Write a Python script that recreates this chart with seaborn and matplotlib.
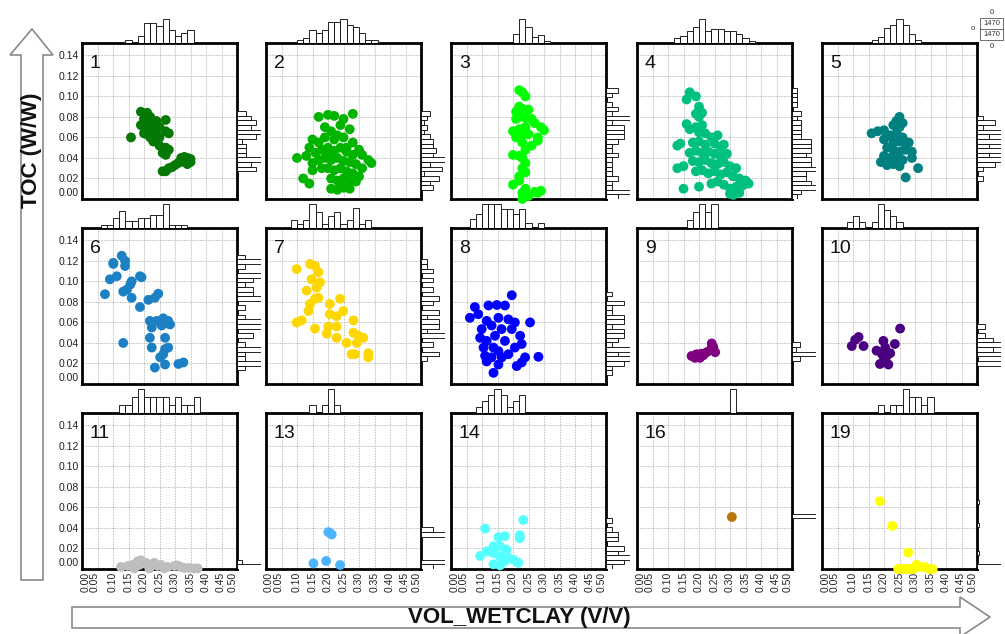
import numpy as np
import pandas as pd
import matplotlib
matplotlib.use("Agg")
import matplotlib.pyplot as plt
import seaborn as sns
from matplotlib.patches import Polygon, Rectangle
from matplotlib.transforms import ScaledTranslation

sns.set_style("white")
plt.rcParams["font.family"] = ["Liberation Sans", "DejaVu Sans"]

# ---------------- data ----------------
panel_ids = ["1", "2", "3", "4", "5", "6", "7", "8", "9", "10", "11", "13", "14", "16", "19"]
panel_colors = ["#067806", "#00B400", "#00FF00", "#00C080", "#008080",
                "#1C80C4", "#FFD700", "#0000FF", "#800080", "#4B0082",
                "#BEBEBE", "#4CB4FF", "#55FFFF", "#B8740A", "#FFFF00"]

x1 = [0.158, 0.19, 0.21, 0.20, 0.22, 0.19, 0.20, 0.21, 0.22, 0.23, 0.24, 0.27, 0.25, 0.21, 0.22, 0.23, 0.24,
      0.20, 0.23, 0.25, 0.27, 0.28, 0.25, 0.27, 0.28, 0.26, 0.27, 0.32, 0.33, 0.34, 0.35, 0.35, 0.34, 0.33,
      0.31, 0.30, 0.29, 0.28, 0.27, 0.26]
y1 = [0.060, 0.085, 0.084, 0.078, 0.080, 0.072, 0.070, 0.074, 0.068, 0.072, 0.076, 0.077, 0.070, 0.063, 0.060,
      0.065, 0.062, 0.064, 0.056, 0.060, 0.066, 0.064, 0.052, 0.050, 0.048, 0.045, 0.043, 0.040, 0.041, 0.040,
      0.039, 0.036, 0.034, 0.036, 0.035, 0.033, 0.031, 0.030, 0.027, 0.027]

x2 = [0.17, 0.20, 0.22, 0.25, 0.28, 0.24, 0.27, 0.19, 0.21, 0.10, 0.13, 0.14, 0.15, 0.17, 0.19, 0.22, 0.25,
      0.28, 0.30, 0.31, 0.16, 0.18, 0.20, 0.22, 0.24, 0.26, 0.28, 0.33, 0.34, 0.15, 0.17, 0.19, 0.21, 0.23,
      0.25, 0.27, 0.29, 0.31, 0.15, 0.18, 0.20, 0.22, 0.24, 0.26, 0.28, 0.30, 0.12, 0.14, 0.21, 0.23, 0.25,
      0.27, 0.29, 0.21, 0.23, 0.25, 0.27, 0.24, 0.26, 0.23, 0.20]
y2 = [0.080, 0.082, 0.081, 0.078, 0.083, 0.072, 0.068, 0.070, 0.066, 0.040, 0.042, 0.050, 0.058, 0.055, 0.060,
      0.058, 0.060, 0.055, 0.048, 0.043, 0.045, 0.048, 0.050, 0.047, 0.050, 0.046, 0.043, 0.038, 0.035, 0.035,
      0.038, 0.040, 0.038, 0.040, 0.037, 0.036, 0.034, 0.030, 0.028, 0.030, 0.030, 0.028, 0.030, 0.027, 0.025,
      0.022, 0.020, 0.015, 0.020, 0.018, 0.020, 0.018, 0.017, 0.010, 0.009, 0.011, 0.010, 0.014, 0.050, 0.062,
      0.043]

x3 = [0.22, 0.23, 0.24, 0.22, 0.21, 0.23, 0.25, 0.21, 0.22, 0.24, 0.26, 0.27, 0.29, 0.30, 0.20, 0.22, 0.24,
      0.23, 0.25, 0.28, 0.21, 0.23, 0.26, 0.28, 0.24, 0.20, 0.22, 0.23, 0.24, 0.23, 0.24, 0.22, 0.20, 0.22,
      0.24, 0.23, 0.25, 0.23, 0.27, 0.28, 0.29]
y3 = [0.106, 0.104, 0.100, 0.090, 0.085, 0.088, 0.087, 0.078, 0.080, 0.079, 0.078, 0.074, 0.070, 0.067, 0.066,
      0.068, 0.070, 0.062, 0.063, 0.060, 0.060, 0.055, 0.052, 0.057, 0.048, 0.043, 0.042, 0.040, 0.035, 0.030,
      0.026, 0.022, 0.014, 0.018, 0.010, 0.006, 0.003, 0.000, 0.007, 0.006, 0.008]

x4 = [0.17, 0.19, 0.16, 0.20, 0.19, 0.20, 0.21, 0.16, 0.17, 0.19, 0.21, 0.20, 0.22, 0.24, 0.26, 0.13, 0.14,
      0.18, 0.20, 0.22, 0.25, 0.27, 0.28, 0.17, 0.19, 0.21, 0.23, 0.25, 0.27, 0.29, 0.13, 0.15, 0.18, 0.20,
      0.22, 0.24, 0.26, 0.28, 0.30, 0.32, 0.19, 0.21, 0.23, 0.25, 0.27, 0.29, 0.31, 0.33, 0.35, 0.36, 0.15,
      0.20, 0.24, 0.26, 0.28, 0.30, 0.32, 0.34, 0.30, 0.31, 0.33]
y4 = [0.104, 0.100, 0.097, 0.090, 0.083, 0.080, 0.084, 0.073, 0.068, 0.070, 0.072, 0.065, 0.064, 0.060, 0.062,
      0.052, 0.054, 0.055, 0.056, 0.053, 0.054, 0.051, 0.053, 0.045, 0.047, 0.045, 0.046, 0.044, 0.042, 0.044,
      0.030, 0.032, 0.037, 0.036, 0.038, 0.035, 0.034, 0.036, 0.032, 0.030, 0.027, 0.028, 0.025, 0.027, 0.024,
      0.026, 0.022, 0.020, 0.018, 0.015, 0.010, 0.012, 0.015, 0.017, 0.014, 0.010, 0.012, 0.013, 0.005, 0.004,
      0.006]

x5 = [0.25, 0.24, 0.26, 0.23, 0.25, 0.16, 0.18, 0.20, 0.22, 0.24, 0.26, 0.20, 0.23, 0.25, 0.27, 0.28, 0.21,
      0.23, 0.25, 0.27, 0.29, 0.20, 0.22, 0.24, 0.26, 0.29, 0.19, 0.21, 0.23, 0.25, 0.31, 0.27]
y5 = [0.080, 0.076, 0.074, 0.072, 0.070, 0.064, 0.066, 0.067, 0.062, 0.064, 0.060, 0.058, 0.055, 0.056, 0.052,
      0.055, 0.050, 0.048, 0.046, 0.048, 0.046, 0.042, 0.040, 0.041, 0.038, 0.040, 0.036, 0.033, 0.034, 0.032,
      0.030, 0.021]

x6 = [0.074, 0.090, 0.101, 0.128, 0.139, 0.112, 0.160, 0.133, 0.160, 0.187, 0.192, 0.187, 0.214, 0.246, 0.235,
      0.133, 0.219, 0.241, 0.262, 0.278, 0.225, 0.257, 0.219, 0.268, 0.225, 0.268, 0.278, 0.252, 0.262, 0.268,
      0.235, 0.311, 0.327, 0.139, 0.101, 0.156, 0.145, 0.284]
y6 = [0.0875, 0.102, 0.118, 0.125, 0.115, 0.105, 0.100, 0.090, 0.084, 0.105, 0.104, 0.075, 0.082, 0.088, 0.084,
      0.040, 0.0615, 0.0615, 0.064, 0.0615, 0.055, 0.057, 0.045, 0.045, 0.0355, 0.034, 0.0355, 0.026, 0.029,
      0.019, 0.016, 0.0195, 0.021, 0.120, 0.117, 0.097, 0.092, 0.058]

x7 = [0.099, 0.142, 0.158, 0.169, 0.147, 0.174, 0.163, 0.131, 0.158, 0.169, 0.142, 0.137, 0.206, 0.239, 0.206,
      0.228, 0.249, 0.099, 0.115, 0.158, 0.201, 0.228, 0.282, 0.196, 0.228, 0.282, 0.260, 0.298, 0.314, 0.293,
      0.276, 0.287, 0.330, 0.330]
y7 = [0.112, 0.117, 0.115, 0.109, 0.102, 0.099, 0.094, 0.091, 0.083, 0.084, 0.078, 0.071, 0.078, 0.083, 0.068,
      0.066, 0.071, 0.060, 0.062, 0.054, 0.056, 0.056, 0.062, 0.049, 0.045, 0.050, 0.040, 0.047, 0.045, 0.040,
      0.029, 0.029, 0.030, 0.026]

x8 = [0.196, 0.077, 0.121, 0.148, 0.174, 0.061, 0.088, 0.115, 0.153, 0.185, 0.206, 0.255, 0.099, 0.131, 0.163,
      0.196, 0.094, 0.115, 0.142, 0.174, 0.223, 0.228, 0.206, 0.137, 0.153, 0.110, 0.131, 0.185, 0.239, 0.282,
      0.115, 0.153, 0.212, 0.228, 0.137, 0.164, 0.105]
y8 = [0.0865, 0.075, 0.0765, 0.077, 0.0765, 0.0645, 0.068, 0.0615, 0.0645, 0.063, 0.060, 0.060, 0.0535, 0.057,
      0.0535, 0.0535, 0.045, 0.042, 0.047, 0.042, 0.047, 0.039, 0.0355, 0.0355, 0.032, 0.0275, 0.026, 0.029,
      0.026, 0.0265, 0.022, 0.019, 0.0175, 0.021, 0.0109, 0.026, 0.0355]

x9 = [0.176, 0.192, 0.208, 0.225, 0.241, 0.246, 0.252, 0.187, 0.203, 0.214, 0.239]
y9 = [0.0273, 0.029, 0.0295, 0.031, 0.0395, 0.036, 0.031, 0.0255, 0.0255, 0.028, 0.034]

x10 = [0.096, 0.118, 0.107, 0.134, 0.176, 0.198, 0.204, 0.194, 0.209, 0.220, 0.198, 0.214, 0.187, 0.235, 0.252]
y10 = [0.037, 0.0458, 0.043, 0.037, 0.0325, 0.042, 0.0355, 0.029, 0.0273, 0.030, 0.0221, 0.019, 0.0195, 0.039,
       0.054]

x11 = [0.126, 0.148, 0.180, 0.190, 0.206, 0.228, 0.233, 0.255, 0.276, 0.298, 0.308, 0.330, 0.362, 0.373, 0.169,
       0.217, 0.266, 0.164, 0.185, 0.244, 0.319, 0.346]
y11 = [0.002, 0.003, 0.0075, 0.0085, 0.006, 0.004, 0.006, 0.004, 0.002, 0.003, 0.0035, 0.001, 0.0006, 0.0006,
       0.0006, 0.0006, 0.0006, 0.004, 0.004, 0.003, 0.002, 0.001]

x13 = [0.201, 0.212, 0.206, 0.153, 0.194, 0.239]
y13 = [0.036, 0.0337, 0.035, 0.0055, 0.0078, 0.0039]

x14 = [0.110, 0.233, 0.222, 0.222, 0.153, 0.174, 0.137, 0.158, 0.179, 0.094, 0.115, 0.137, 0.158, 0.185, 0.201,
       0.217, 0.137, 0.158, 0.174]
y14 = [0.0393, 0.0478, 0.0329, 0.030, 0.031, 0.032, 0.0221, 0.0221, 0.0188, 0.0127, 0.0172, 0.0156, 0.0124,
       0.0107, 0.0091, 0.006, 0.0046, 0.0036, 0.0078]

x16 = [0.306]
y16 = [0.0507]

x19 = [0.187, 0.227, 0.278, 0.246, 0.262, 0.283, 0.305, 0.315, 0.331, 0.347, 0.357, 0.294, 0.272]
y19 = [0.066, 0.042, 0.016, 0.000, 0.000, 0.000, 0.004, 0.002, 0.002, 0.000, 0.000, 0.000, 0.000]

panel_x = [x1, x2, x3, x4, x5, x6, x7, x8, x9, x10, x11, x13, x14, x16, x19]
panel_y = [y1, y2, y3, y4, y5, y6, y7, y8, y9, y10, y11, y13, y14, y16, y19]

x_ticks = [0.00, 0.05, 0.10, 0.15, 0.20, 0.25, 0.30, 0.35, 0.40, 0.45, 0.50]
y_ticks = [0.00, 0.02, 0.04, 0.06, 0.08, 0.10, 0.12, 0.14]
x_title = "VOL_WETCLAY (V/V)"
y_title = "TOC (W/W)"

# ---------------- layout ----------------
W, H = 1005, 634
fig = plt.figure(figsize=(W / 100, H / 100), dpi=100)
fig.patch.set_facecolor("white")


def rect(left, top, w, h):
    return [left / W, 1 - (top + h) / H, w / W, h / H]


def fx(px):
    return px / W


def fy(py):
    return 1 - py / H


col_left = [82, 266, 451, 637, 822]
row_top = [43, 228, 413]
PW, PH = 155, 156
MARG = 24
XLIM = (0, 0.5)
YLIM = (0, 0.152)
xbins = np.arange(0, 0.52, 0.02)
ybins = np.arange(0, 0.156, 0.0045)

for i, pid in enumerate(panel_ids):
    r, c = divmod(i, 5)
    df = pd.DataFrame({"x": panel_x[i], "y": panel_y[i]})
    ax = fig.add_axes(rect(col_left[c], row_top[r], PW, PH))
    sns.scatterplot(data=df, x="x", y="y", color=panel_colors[i], s=50, linewidth=0,
                    edgecolor="none", ax=ax, clip_on=False, zorder=5, legend=False)
    ax.set_xlim(*XLIM)
    ax.set_ylim(*YLIM)
    ax.set_xticks(x_ticks)
    ax.set_yticks(y_ticks)
    ax.grid(True, color="#bdbdbd", linestyle=(0, (2, 1.2)), linewidth=0.6)
    ax.set_axisbelow(True)
    for s in ax.spines.values():
        s.set_linewidth(2.0)
        s.set_color("black")
        s.set_zorder(4)
    ax.tick_params(length=0, pad=2, labelsize=7.5, colors="#222222")
    ax.set_xlabel("")
    ax.set_ylabel("")
    if c == 0:
        ax.set_yticklabels([f"{v:.2f}" for v in y_ticks])
        lab0 = ax.get_yticklabels()[0]
        lab0.set_transform(lab0.get_transform() + ScaledTranslation(0, 5 / 72, fig.dpi_scale_trans))
    else:
        ax.set_yticklabels([])
    if r == 2:
        ax.set_xticklabels([f"{v:.2f}" for v in x_ticks], rotation=90)
        shifts = {0: 3, 1: -3, 9: -1, 10: -4}
        labs = ax.get_xticklabels()
        for k, dx in shifts.items():
            labs[k].set_transform(labs[k].get_transform() + ScaledTranslation(dx / 72 * 0.75, 0, fig.dpi_scale_trans))
    else:
        ax.set_xticklabels([])
    ax.text(0.05, 0.87, pid, transform=ax.transAxes, fontsize=14, va="center", ha="left",
            color="#111111", zorder=6)

    # top marginal histogram
    tax = fig.add_axes(rect(col_left[c], row_top[r] - MARG, PW, MARG))
    sns.histplot(x=panel_x[i], bins=xbins, ax=tax, color="white", edgecolor="black",
                 linewidth=0.6, alpha=1)
    tax.set_xlim(*XLIM)
    tmax = max(p.get_height() for p in tax.patches)
    tax.set_ylim(0, tmax * 1.02)
    tax.axis("off")

    # right marginal histogram
    rax = fig.add_axes(rect(col_left[c] + PW, row_top[r], MARG, PH))
    sns.histplot(y=panel_y[i], bins=ybins, ax=rax, color="white", edgecolor="black",
                 linewidth=0.6, alpha=1)
    rax.set_ylim(*YLIM)
    rmax = max(p.get_width() for p in rax.patches)
    rax.set_xlim(0, rmax * 1.02)
    rax.axis("off")

# ---------------- axis arrows ----------------
arrow_v = [(32, 29), (53, 55), (43, 55), (43, 580), (21, 580), (21, 55), (10, 55)]
fig.patches.append(Polygon([(fx(a), fy(b)) for a, b in arrow_v], closed=True, transform=fig.transFigure,
                           facecolor="white", edgecolor="#8a8a8a", linewidth=1.2))
arrow_h = [(72, 607), (960, 607), (960, 597), (990, 617), (960, 637), (960, 628), (72, 628)]
fig.patches.append(Polygon([(fx(a), fy(b)) for a, b in arrow_h], closed=True, transform=fig.transFigure,
                           facecolor="white", edgecolor="#8a8a8a", linewidth=1.2))
fig.text(fx(32), fy(150), y_title, rotation=90, ha="center", va="center", fontsize=16,
         fontweight="bold", color="#111111")
fig.text(fx(519), fy(617), x_title, ha="center", va="center", fontsize=16,
         fontweight="bold", color="#111111")

# ---------------- small corner key ----------------
fig.patches.append(Rectangle((fx(980), fy(40)), (1003 - 980) / W, 22 / H, transform=fig.transFigure,
                             facecolor="white", edgecolor="#555555", linewidth=0.6))
fig.lines.append(plt.Line2D([fx(980), fx(1003)], [fy(29), fy(29)], transform=fig.transFigure,
                            color="#555555", linewidth=0.6))
for txt, px, py in [("0", 992, 12), ("1470", 991.5, 23.5), ("1470", 991.5, 34.5), ("0", 992, 46),
                    ("o", 973, 29)]:
    fig.text(fx(px), fy(py), txt, ha="center", va="center", fontsize=5.5, color="#333333")

fig.savefig("out.png", dpi=100, facecolor="white")
